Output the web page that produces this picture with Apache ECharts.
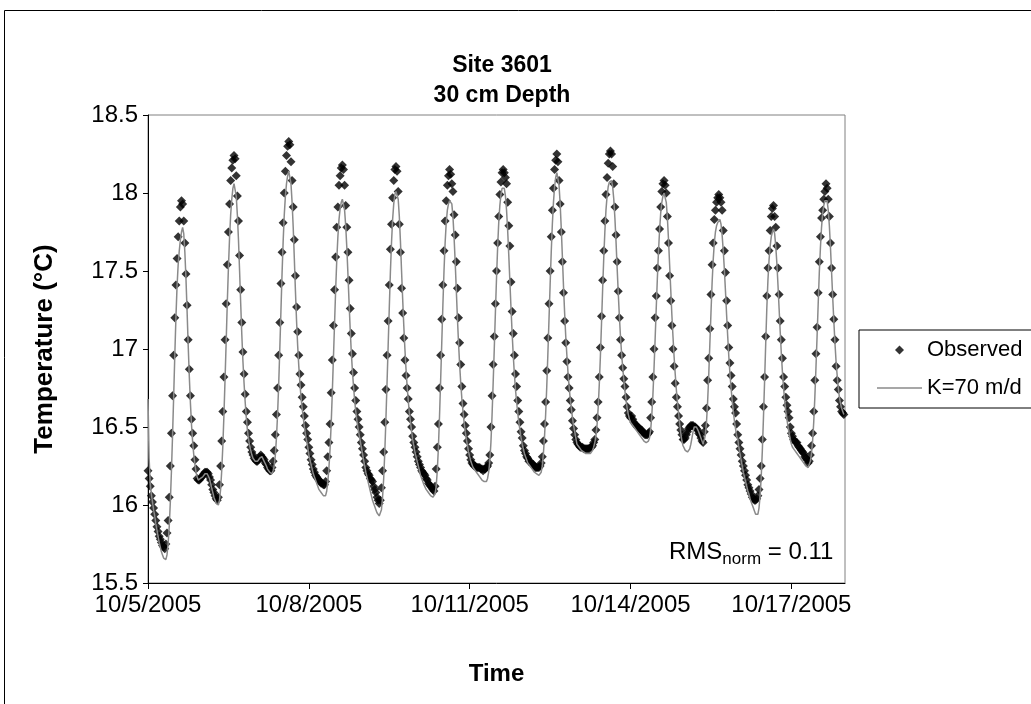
<!DOCTYPE html>
<html>
<head>
<meta charset="utf-8">
<script src="https://cdn.jsdelivr.net/npm/echarts/dist/echarts.min.js"></script>
<style>
  html, body { margin: 0; padding: 0; background: #fff; }
  #chart { width: 1031px; height: 704px; }
</style>
</head>
<body>
<div id="chart"></div>
<script>
// Site 3601, 30 cm depth: half-hourly temperatures (°C), one array per day, starting 10/5/2005 00:00.
const obsDay0 = [16.22,16.17,16.12,16.06,16.02,15.98,15.94,15.90,15.86,15.83,15.80,15.78,15.76,15.74,15.73,15.72,15.75,15.82,15.90,16.05,16.25,16.46,16.70,16.96,17.20,17.41,17.58,17.72,17.82,17.91,17.95,17.93,17.82,17.68,17.48,17.28,17.06,16.87,16.70,16.55,16.46,16.38,16.29,16.23,16.17,16.16,16.16,16.17];
const obsDay1 = [16.18,16.19,16.20,16.21,16.21,16.21,16.20,16.18,16.16,16.13,16.10,16.08,16.06,16.04,16.03,16.05,16.13,16.25,16.41,16.60,16.82,17.06,17.29,17.54,17.75,17.93,18.08,18.16,18.21,18.24,18.22,18.11,17.98,17.82,17.60,17.38,17.17,16.98,16.84,16.71,16.60,16.53,16.46,16.41,16.37,16.34,16.32,16.30];
const obsDay2 = [16.29,16.28,16.28,16.29,16.31,16.32,16.31,16.30,16.29,16.27,16.26,16.24,16.23,16.22,16.22,16.24,16.28,16.35,16.45,16.58,16.75,16.96,17.17,17.42,17.62,17.81,18.00,18.14,18.24,18.30,18.33,18.31,18.20,18.08,17.91,17.70,17.47,17.27,17.11,16.96,16.84,16.77,16.69,16.63,16.57,16.51,16.46,16.42];
const obsDay3 = [16.37,16.33,16.29,16.26,16.23,16.21,16.19,16.18,16.17,16.16,16.15,16.14,16.14,16.13,16.13,16.15,16.22,16.31,16.40,16.52,16.72,16.93,17.15,17.38,17.59,17.78,17.91,18.05,18.11,18.16,18.18,18.15,18.05,17.92,17.78,17.62,17.44,17.26,17.10,16.97,16.85,16.75,16.67,16.60,16.55,16.50,16.45,16.40];
const obsDay4 = [16.36,16.32,16.28,16.24,16.22,16.20,16.19,16.17,16.16,16.15,16.12,16.10,16.08,16.05,16.03,16.01,16.03,16.11,16.22,16.34,16.53,16.74,16.96,17.18,17.41,17.64,17.80,17.97,18.08,18.15,18.17,18.14,18.01,17.80,17.62,17.39,17.23,17.07,16.93,16.83,16.75,16.68,16.60,16.55,16.50,16.44,16.40,16.37];
const obsDay5 = [16.34,16.31,16.28,16.26,16.24,16.22,16.21,16.20,16.19,16.17,16.16,16.14,16.13,16.12,16.11,16.10,16.09,16.12,16.23,16.37,16.52,16.75,16.96,17.19,17.41,17.63,17.82,17.95,18.05,18.11,18.15,18.12,18.06,18.01,17.86,17.73,17.56,17.39,17.20,17.04,16.90,16.76,16.65,16.58,16.51,16.46,16.41,16.36];
const obsDay6 = [16.32,16.29,16.27,16.26,16.25,16.25,16.24,16.24,16.24,16.24,16.23,16.23,16.22,16.23,16.23,16.24,16.25,16.27,16.32,16.50,16.70,16.90,17.08,17.29,17.50,17.68,17.85,17.99,18.07,18.13,18.15,18.13,18.10,18.06,17.94,17.79,17.66,17.43,17.24,17.10,16.96,16.84,16.76,16.67,16.60,16.53,16.47,16.43];
const obsDay7 = [16.38,16.35,16.33,16.31,16.30,16.28,16.28,16.27,16.26,16.26,16.25,16.24,16.24,16.24,16.24,16.25,16.27,16.31,16.41,16.52,16.66,16.86,17.07,17.29,17.50,17.72,17.89,18.03,18.15,18.21,18.25,18.20,18.08,17.93,17.75,17.56,17.36,17.18,17.04,16.92,16.82,16.75,16.67,16.61,16.54,16.49,16.45,16.42];
const obsDay8 = [16.40,16.39,16.38,16.37,16.37,16.37,16.36,16.36,16.36,16.36,16.36,16.36,16.37,16.37,16.38,16.40,16.42,16.48,16.56,16.66,16.82,17.01,17.21,17.44,17.63,17.82,17.99,18.10,18.19,18.25,18.27,18.25,18.17,18.06,17.91,17.73,17.56,17.37,17.20,17.06,16.96,16.88,16.81,16.76,16.69,16.63,16.59,16.57];
const obsDay9 = [16.56,16.57,16.55,16.53,16.52,16.51,16.50,16.50,16.49,16.48,16.48,16.47,16.46,16.45,16.45,16.45,16.46,16.47,16.56,16.66,16.82,17.00,17.20,17.34,17.52,17.63,17.77,17.91,18.01,18.06,18.08,18.05,18.00,17.85,17.68,17.47,17.31,17.15,17.00,16.89,16.78,16.69,16.63,16.57,16.52,16.48,16.45,16.42];
const obsDay10 = [16.42,16.43,16.45,16.47,16.49,16.50,16.51,16.51,16.51,16.50,16.50,16.49,16.48,16.46,16.45,16.43,16.41,16.40,16.47,16.51,16.62,16.80,16.94,17.13,17.35,17.54,17.68,17.83,17.89,17.94,17.97,17.99,17.97,17.94,17.89,17.76,17.63,17.49,17.31,17.15,17.01,16.91,16.83,16.76,16.68,16.63,16.59,16.52];
const obsDay11 = [16.45,16.40,16.36,16.32,16.28,16.25,16.22,16.19,16.16,16.13,16.11,16.09,16.07,16.05,16.04,16.03,16.03,16.04,16.06,16.10,16.17,16.25,16.42,16.63,16.82,17.08,17.34,17.52,17.63,17.76,17.85,17.90,17.92,17.85,17.78,17.66,17.52,17.35,17.18,17.06,16.94,16.82,16.76,16.69,16.64,16.60,16.56,16.50];
const obsDay12 = [16.46,16.44,16.42,16.41,16.40,16.40,16.38,16.37,16.36,16.35,16.34,16.33,16.31,16.30,16.29,16.27,16.28,16.32,16.38,16.46,16.60,16.80,16.97,17.14,17.36,17.56,17.72,17.84,17.89,17.96,18.01,18.06,18.03,17.96,17.85,17.68,17.52,17.35,17.19,17.06,16.89,16.80,16.74,16.67,16.63,16.60,16.59,16.58];

// Simulated temperatures for hydraulic conductivity K = 70 m/d, same half-hourly steps.
const modelDay0 = [16.68,16.30,16.14,16.07,16.02,15.97,15.93,15.88,15.84,15.80,15.76,15.73,15.70,15.68,15.66,15.65,15.65,15.68,15.75,15.86,16.02,16.22,16.45,16.70,16.96,17.20,17.40,17.54,17.63,17.70,17.75,17.78,17.74,17.62,17.45,17.24,17.02,16.82,16.65,16.51,16.40,16.32,16.26,16.21,16.18,16.16,16.16,16.17];
const modelDay1 = [16.17,16.18,16.19,16.20,16.21,16.20,16.19,16.17,16.14,16.11,16.08,16.05,16.03,16.01,16.00,16.00,16.03,16.10,16.22,16.38,16.58,16.81,17.05,17.30,17.52,17.71,17.86,17.96,18.03,18.06,18.05,17.98,17.86,17.70,17.50,17.29,17.09,16.92,16.78,16.66,16.56,16.48,16.42,16.38,16.35,16.32,16.30,16.29];
const modelDay2 = [16.28,16.28,16.28,16.29,16.30,16.31,16.31,16.30,16.28,16.27,16.25,16.23,16.22,16.21,16.20,16.20,16.22,16.25,16.32,16.43,16.58,16.77,17.00,17.24,17.48,17.69,17.86,17.98,18.06,18.11,18.14,18.13,18.06,17.94,17.78,17.58,17.37,17.18,17.02,16.89,16.78,16.69,16.62,16.56,16.50,16.45,16.41,16.37];
const modelDay3 = [16.32,16.29,16.26,16.23,16.20,16.18,16.16,16.14,16.12,16.10,16.09,16.08,16.07,16.06,16.06,16.06,16.09,16.15,16.24,16.36,16.52,16.72,16.94,17.16,17.38,17.57,17.72,17.83,17.90,17.94,17.96,17.95,17.89,17.79,17.65,17.48,17.30,17.13,16.98,16.86,16.76,16.67,16.60,16.54,16.49,16.45,16.41,16.37];
const modelDay4 = [16.33,16.29,16.25,16.21,16.18,16.15,16.12,16.09,16.06,16.03,16.01,15.99,15.97,15.95,15.94,15.93,15.93,15.97,16.05,16.17,16.34,16.55,16.78,17.02,17.26,17.49,17.68,17.83,17.93,17.99,18.01,18.02,17.96,17.85,17.69,17.50,17.32,17.15,17.00,16.87,16.76,16.67,16.59,16.53,16.47,16.42,16.38,16.34];
const modelDay5 = [16.31,16.28,16.25,16.22,16.19,16.17,16.15,16.13,16.12,16.10,16.09,16.08,16.07,16.06,16.05,16.05,16.05,16.07,16.12,16.22,16.37,16.57,16.80,17.04,17.28,17.50,17.68,17.81,17.89,17.93,17.95,17.96,17.93,17.85,17.72,17.56,17.38,17.20,17.04,16.90,16.78,16.68,16.60,16.53,16.47,16.42,16.38,16.34];
const modelDay6 = [16.31,16.28,16.26,16.24,16.23,16.22,16.21,16.20,16.19,16.18,16.17,16.16,16.16,16.15,16.15,16.15,16.17,16.21,16.28,16.40,16.57,16.78,17.00,17.23,17.45,17.65,17.81,17.92,17.99,18.03,18.04,18.03,17.98,17.89,17.76,17.60,17.43,17.26,17.10,16.96,16.84,16.74,16.66,16.59,16.53,16.48,16.43,16.39];
const modelDay7 = [16.36,16.33,16.31,16.29,16.27,16.26,16.25,16.24,16.23,16.22,16.21,16.20,16.20,16.19,16.19,16.19,16.21,16.25,16.33,16.44,16.58,16.76,16.97,17.19,17.41,17.62,17.80,17.94,18.04,18.10,18.13,18.12,18.05,17.93,17.77,17.59,17.40,17.23,17.08,16.96,16.85,16.76,16.68,16.62,16.56,16.51,16.47,16.43];
const modelDay8 = [16.39,16.38,16.37,16.36,16.35,16.35,16.34,16.34,16.33,16.33,16.33,16.33,16.33,16.34,16.35,16.37,16.40,16.44,16.51,16.62,16.77,16.95,17.16,17.38,17.58,17.75,17.89,17.98,18.04,18.07,18.08,18.08,18.04,17.96,17.84,17.69,17.52,17.36,17.21,17.08,16.97,16.88,16.80,16.73,16.67,16.62,16.58,16.55];
const modelDay9 = [16.53,16.52,16.51,16.50,16.49,16.48,16.47,16.46,16.45,16.44,16.43,16.42,16.41,16.41,16.40,16.40,16.41,16.43,16.48,16.57,16.70,16.87,17.06,17.26,17.45,17.62,17.76,17.87,17.94,17.98,18.00,17.99,17.94,17.84,17.70,17.54,17.38,17.22,17.08,16.95,16.84,16.74,16.66,16.59,16.52,16.46,16.41,16.38];
const modelDay10 = [16.37,16.35,16.34,16.34,16.34,16.36,16.39,16.43,16.47,16.50,16.51,16.50,16.49,16.47,16.45,16.43,16.41,16.39,16.40,16.45,16.53,16.66,16.83,17.03,17.23,17.42,17.57,17.68,17.75,17.79,17.81,17.82,17.83,17.80,17.73,17.63,17.51,17.37,17.22,17.08,16.95,16.84,16.75,16.67,16.60,16.54,16.49,16.44];
const modelDay11 = [16.42,16.37,16.33,16.29,16.25,16.21,16.18,16.15,16.12,16.09,16.07,16.04,16.02,16.00,15.98,15.96,15.94,15.93,15.94,15.98,16.06,16.18,16.35,16.56,16.79,17.03,17.26,17.44,17.57,17.66,17.72,17.75,17.77,17.74,17.66,17.55,17.41,17.26,17.11,16.97,16.85,16.75,16.67,16.60,16.55,16.50,16.46,16.42];
const modelDay12 = [16.39,16.37,16.36,16.35,16.34,16.33,16.32,16.31,16.30,16.29,16.28,16.27,16.26,16.25,16.25,16.24,16.25,16.28,16.33,16.41,16.53,16.69,16.88,17.08,17.29,17.49,17.65,17.78,17.87,17.92,17.95,17.96,17.95,17.89,17.79,17.65,17.49,17.33,17.18,17.04,16.92,16.83,16.75,16.69,16.65,16.62,16.60,16.58];

// Time axis: hours since 10/5/2005 00:00, labelled every three days.
const stepHours = 0.5;
const tickEveryHours = 72;
const dateTickLabels = ['10/5/2005', '10/8/2005', '10/11/2005', '10/14/2005', '10/17/2005'];
const temperatureTicks = { min: 15.5, max: 18.5, step: 0.5 };
const rmsNorm = 0.11;

const observed = [].concat(obsDay0, obsDay1, obsDay2, obsDay3, obsDay4, obsDay5, obsDay6,
  obsDay7, obsDay8, obsDay9, obsDay10, obsDay11, obsDay12);
const simulated = [].concat(modelDay0, modelDay1, modelDay2, modelDay3, modelDay4, modelDay5, modelDay6,
  modelDay7, modelDay8, modelDay9, modelDay10, modelDay11, modelDay12);

const toPoints = arr => arr.map((v, i) => [i * stepHours, v]);
const spanHours = observed.length * stepHours;

const FONT = '"Liberation Sans", Arial, sans-serif';
const MODEL_GREY = '#8a8a8a';

// Legend glyphs: a square-aspect diamond and a thin horizontal stroke.
const diamondIcon = 'path://M5,0L10,5L5,10L0,5Z';
const strokeIcon = 'path://M0,0H30V1H0Z';

const chart = echarts.init(document.getElementById('chart'), null, { renderer: 'canvas' });

chart.setOption({
  animation: false,
  backgroundColor: '#ffffff',
  textStyle: { fontFamily: FONT, color: '#000' },
  title: {
    text: 'Site 3601\n30 cm Depth',
    left: 497,
    textAlign: 'center',
    top: 46,
    textStyle: { fontFamily: FONT, fontSize: 23, fontWeight: 'bold', lineHeight: 30, color: '#000' }
  },
  grid: {
    left: 148,
    right: 186,
    top: 115,
    bottom: 121,
    show: true,
    borderColor: '#808080',
    borderWidth: 1,
    backgroundColor: '#ffffff'
  },
  legend: {
    orient: 'vertical',
    left: 859,
    top: 330,
    itemWidth: 45,
    itemHeight: 9,
    itemGap: 14,
    padding: [8, 60, 8, 18],
    borderColor: '#000',
    borderWidth: 1,
    backgroundColor: '#ffffff',
    symbolKeepAspect: true,
    textStyle: { fontFamily: FONT, fontSize: 22, color: '#000', lineHeight: 24 },
    data: [
      { name: 'Observed', icon: diamondIcon, itemStyle: { color: '#000' } },
      { name: 'K=70 m/d', icon: strokeIcon, itemStyle: { color: MODEL_GREY } }
    ]
  },
  xAxis: {
    type: 'value',
    min: 0,
    max: spanHours,
    interval: tickEveryHours,
    name: 'Time',
    nameLocation: 'middle',
    nameGap: 79,
    nameTextStyle: { fontFamily: FONT, fontSize: 24, fontWeight: 'bold', color: '#000' },
    axisLine: { show: true, onZero: false, lineStyle: { color: '#000', width: 1 } },
    axisTick: { show: true, length: 6, lineStyle: { color: '#000' } },
    axisLabel: {
      fontFamily: FONT, fontSize: 24, color: '#000', margin: 10,
      showMaxLabel: false,
      formatter: v => dateTickLabels[Math.round(v / tickEveryHours)] || ''
    },
    splitLine: { show: false }
  },
  yAxis: {
    type: 'value',
    min: temperatureTicks.min,
    max: temperatureTicks.max,
    interval: temperatureTicks.step,
    name: 'Temperature (°C)',
    nameLocation: 'middle',
    nameGap: 90,
    nameRotate: 90,
    nameTextStyle: { fontFamily: FONT, fontSize: 26, fontWeight: 'bold', color: '#000' },
    axisLine: { show: true, onZero: false, lineStyle: { color: '#000', width: 1 } },
    axisTick: { show: true, length: 5, lineStyle: { color: '#000' } },
    axisLabel: { fontFamily: FONT, fontSize: 24, color: '#000', margin: 10 },
    splitLine: { show: false }
  },
  graphic: [
    {
      type: 'rect',
      silent: true,
      z: -10,
      shape: { x: 4.5, y: 10.5, width: 1200, height: 900 },
      style: { fill: 'none', stroke: '#000', lineWidth: 1 }
    },
    {
      type: 'text',
      left: 669,
      top: 540,
      z: 10,
      style: {
        text: '{m|RMS}{s|norm}{m| = ' + rmsNorm.toFixed(2) + '}',
        rich: {
          m: { fontFamily: FONT, fontSize: 24, lineHeight: 26, verticalAlign: 'top', fill: '#000' },
          s: { fontFamily: FONT, fontSize: 17, lineHeight: 38, fill: '#000' }
        }
      }
    }
  ],
  series: [
    {
      name: 'Observed',
      type: 'scatter',
      data: toPoints(observed),
      symbol: 'diamond',
      symbolSize: 9,
      itemStyle: { color: '#000' },
      z: 2
    },
    {
      name: 'K=70 m/d',
      type: 'line',
      data: toPoints(simulated),
      symbol: 'none',
      showSymbol: false,
      lineStyle: { color: MODEL_GREY, width: 1.5 },
      itemStyle: { color: MODEL_GREY },
      z: 3
    }
  ]
});
</script>
</body>
</html>
